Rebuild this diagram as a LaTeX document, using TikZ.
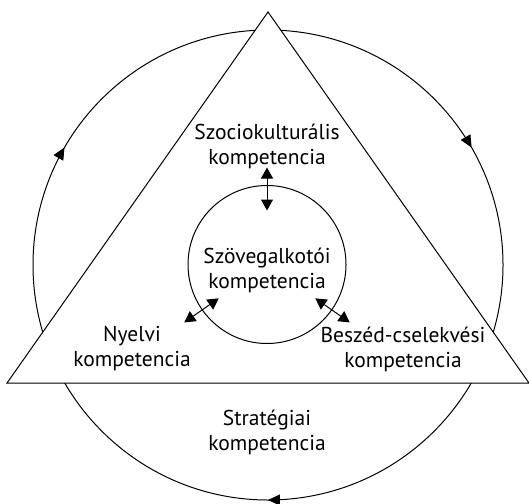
\documentclass[tikz,border=0pt]{standalone}
\usepackage{fontspec}
\setmainfont{PT Sans}
\usetikzlibrary{arrows.meta,decorations.markings}

\tikzset{
  comptext/.style={align=center, font=\fontsize{21.5}{25}\selectfont, inner sep=1pt},
  ring/.style={draw, line width=1pt},
  bothway/.style={{Triangle[length=11pt,width=12pt]}-{Triangle[length=11pt,width=12pt]}, line width=1pt},
  cycletip/.style={decoration={markings,
    mark=at position 0.0833 with {\arrowreversed{Triangle[length=12pt,width=11pt]}},
    mark=at position 0.4167 with {\arrowreversed{Triangle[length=12pt,width=11pt]}},
    mark=at position 0.75 with {\arrowreversed{Triangle[length=12pt,width=11pt]}}},
    postaction={decorate}}
}

\begin{document}
\begin{tikzpicture}[x=1pt,y=-1pt]
\useasboundingbox (0,0) rectangle (529,503);

% outer cycle
\coordinate (mid) at (268,265);
\draw[ring, cycletip] (mid) circle[radius=235pt];

% triangle
\coordinate (apex) at (268,12);
\coordinate (lft) at (7,383);
\coordinate (rgt) at (529,383);
\draw[ring, fill=white] (apex) -- (lft) -- (rgt) -- cycle;

% inner circle
\node[ring, circle, minimum size=158pt] (kor) at (267,264.5) {};

% labels
\node[comptext] (szoveg) at (267,270) {Szövegalkotói\\kompetencia};
\node[comptext] (szocio) at (267,146) {Szociokulturális\\kompetencia};
\node[comptext] (nyelvi) at (132,349) {Nyelvi\\kompetencia};
\node[comptext] (beszed) at (403,349) {Beszéd-cselekvési\\kompetencia};
\node[comptext] (strat) at (267,432) {Stratégiai\\kompetencia};

% links to the centre
\draw[bothway] ([shift={(90:97pt)}]kor.center) -- ([shift={(90:54pt)}]kor.center);
\draw[bothway] ([shift={(215:59pt)}]kor.center) -- ([shift={(215:101pt)}]kor.center);
\draw[bothway] ([shift={(325:59pt)}]kor.center) -- ([shift={(325:101pt)}]kor.center);
\end{tikzpicture}
\end{document}
